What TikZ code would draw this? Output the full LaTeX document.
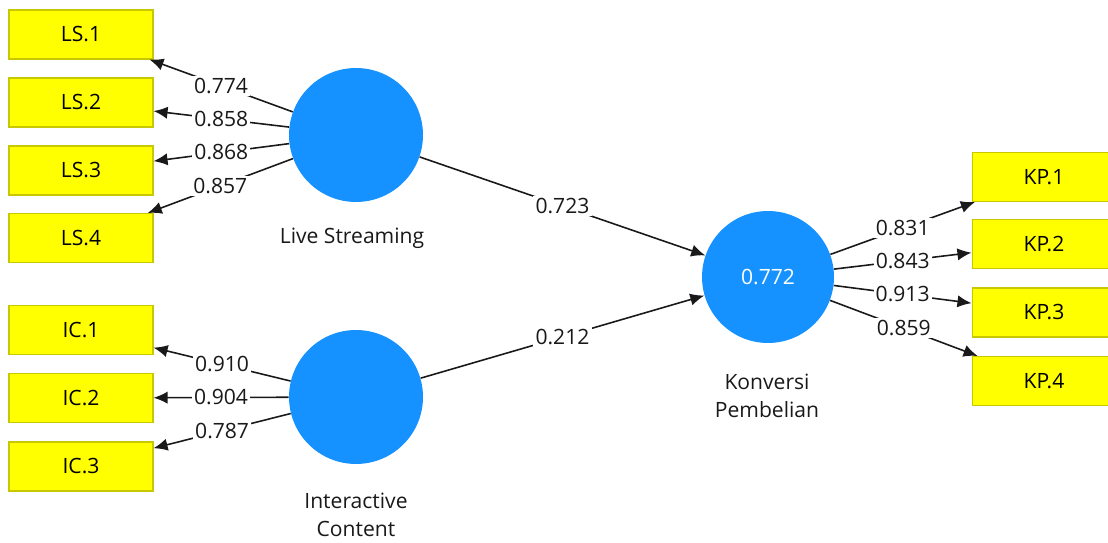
\documentclass[tikz,border=0pt]{standalone}
\usepackage{fontspec}
\setmainfont{Open Sans}
\usepackage{tikz}
\usetikzlibrary{arrows.meta}

\definecolor{indfill}{HTML}{FFFF00}
\definecolor{inddraw}{HTML}{C8C800}
\definecolor{lvfill}{HTML}{1592FF}
\newcommand{\plsfont}{\fontsize{12}{16}\selectfont}

\begin{document}
\begin{tikzpicture}[x=0.02cm, y=-0.02cm,
	ind/.style={draw=inddraw, fill=indfill, line width=0.6pt, minimum width=2.88cm, minimum height=0.98cm, inner sep=0pt, font=\plsfont},
	lv/.style={circle, fill=lvfill, minimum size=2.68cm, inner sep=0pt, text=white, font=\plsfont},
	lvname/.style={align=center, font=\plsfont, text=black!90},
	load/.style={line width=0.9pt, black!90, -{Latex[length=8pt, width=7pt]}},
	coef/.style={midway, fill=white, inner sep=1.2pt, font=\plsfont, text=black!90}]
	\useasboundingbox (0,0) rectangle (1108,543);
	\foreach \i/\y in {1/34.5,2/102.5,3/170.5,4/238} {\node[ind] (LS\i) at (81,\y) {LS.\i};}
	\foreach \i/\y in {1/330,2/398,3/466.5} {\node[ind] (IC\i) at (81,\y) {IC.\i};}
	\foreach \i/\y in {1/177,2/244,3/312.5,4/381} {\node[ind] (KP\i) at (1044,\y) {KP.\i};}
	\node[lv] (LStream) at (356,135) {};
	\node[lv] (IContent) at (356,397) {};
	\node[lv, minimum size=2.64cm] (KPemb) at (768,277) {0.772};
	\node[lvname] (LStreamName) at (352,238) {Live Streaming};
	\node[lvname] (IContentName) at (356,515) {Interactive\\Content};
	\node[lvname] (KPembName) at (767,396) {Konversi\\Pembelian};
	% outer loadings
	\foreach \i/\v in {1/0.774,2/0.858,3/0.868,4/0.857} {\draw[load] (LStream) -- node[coef] {\v} (LS\i);}
	\foreach \i/\v in {1/0.910,2/0.904,3/0.787} {\draw[load] (IContent) -- node[coef] {\v} (IC\i);}
	\foreach \i/\v in {1/0.831,2/0.843,3/0.913,4/0.859} {\draw[load] (KPemb) -- node[coef] {\v} (KP\i);}
	% path coefficients
	\draw[load] (LStream) -- node[coef] {0.723} (KPemb);
	\draw[load] (IContent) -- node[coef] {0.212} (KPemb);
\end{tikzpicture}
\end{document}
